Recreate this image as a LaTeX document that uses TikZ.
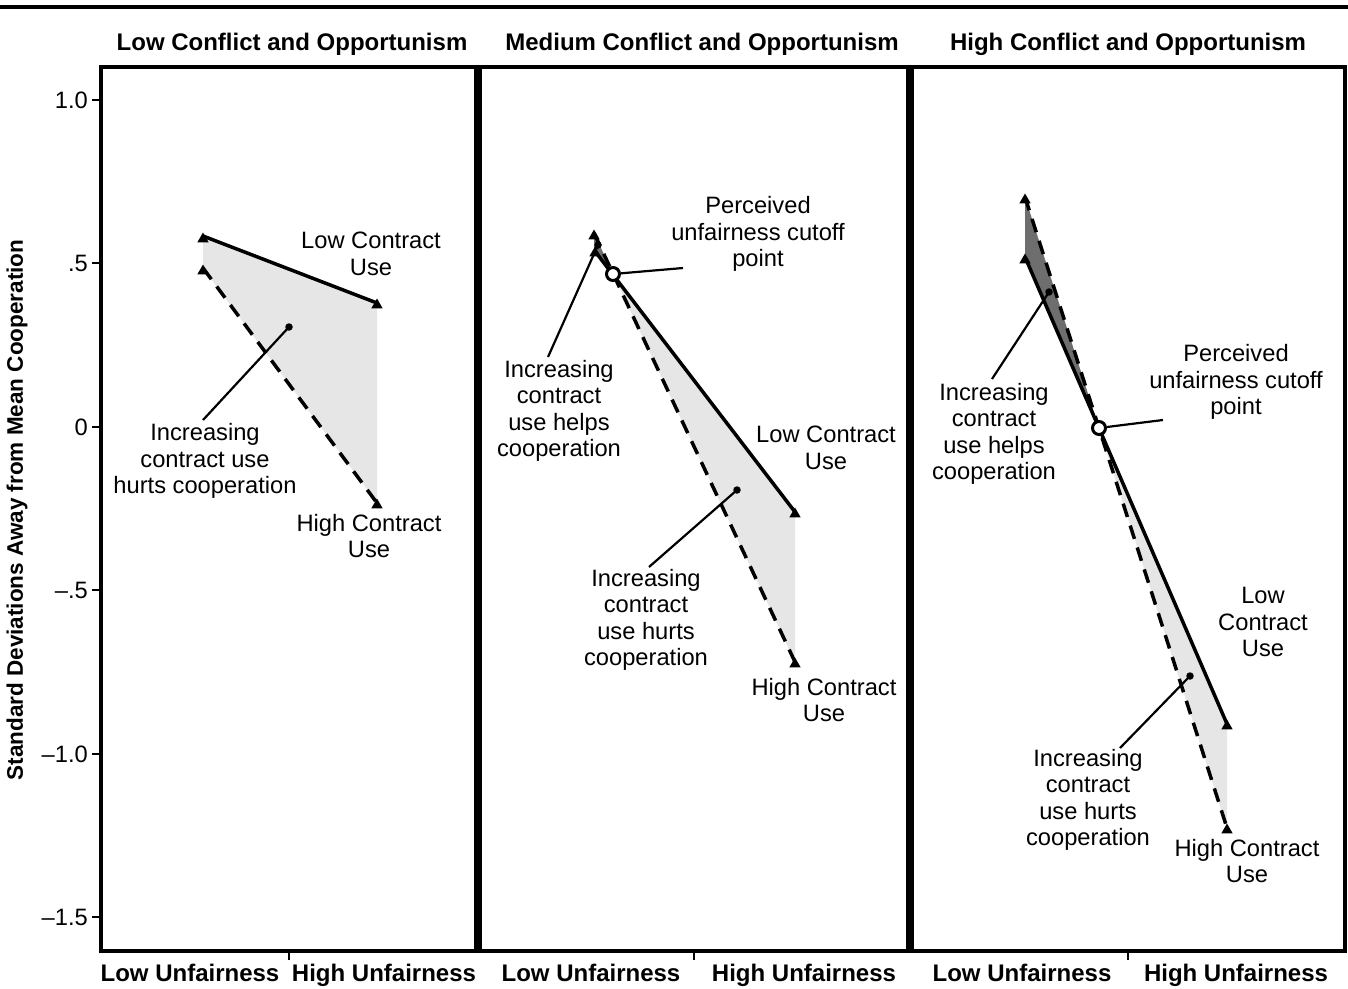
\documentclass[tikz,border=0pt]{standalone}
\usepackage{fontspec}
\setmainfont{Liberation Sans}
\usetikzlibrary{shapes.geometric}
\definecolor{lightfill}{HTML}{E6E6E6}
\definecolor{darkfill}{HTML}{6E6E6E}
\tikzset{
  lbl/.style={font=\fontsize{23.7}{26.5}\selectfont, align=center, inner sep=0pt},
  ttl/.style={font=\fontsize{24}{26}\selectfont\bfseries, inner sep=0pt, anchor=base},
  ytl/.style={font=\fontsize{23.7}{26}\selectfont, anchor=east, inner sep=0pt},
  frame/.style={line width=4pt},
  lowline/.style={line width=3.5pt},
  highline/.style={line width=3.5pt, dash pattern=on 14pt off 9pt},
  ptr/.style={line width=2.2pt},
  tri/.style={regular polygon, regular polygon sides=3, fill=black, inner sep=0pt, minimum size=13pt},
  dotnode/.style={circle, fill=black, inner sep=0pt, minimum size=7.5pt},
  cutoff/.style={circle, draw=black, line width=3pt, fill=white, inner sep=0pt, minimum size=13pt},
}
\begin{document}
\begin{tikzpicture}[x=1pt,y=-1pt]
\useasboundingbox (0,0) rectangle (1348,988);
% top rule
\coordinate (rl) at (0,7); \coordinate (rr) at (1348,7);
\draw[line width=4pt] (rl) -- (rr);

% titles
\node[ttl] (t1) at (292,50) {Low Conflict and Opportunism};
\node[ttl] (t2) at (702,50) {Medium Conflict and Opportunism};
\node[ttl] (t3) at (1128,50) {High Conflict and Opportunism};

% y label
\node[font=\fontsize{22.5}{24}\selectfont\bfseries, rotate=90, inner sep=0pt] (ylab) at (17,510) {Standard Deviations Away from Mean Cooperation};

% y ticks
\foreach \v/\t/\n in {100/1.0/a,263/.5/b,427/0/c,590/–.5/d,754/–1.0/e,917/–1.5/f}{
  \coordinate (yt\n) at (92,\v); \coordinate (yb\n) at (101,\v);
  \draw[line width=1.5pt] (yt\n) -- (yb\n);
  \node[ytl] (yl\n) at (88,\v) {\t};
}

% x ticks
\foreach \x/\n in {289/a,694/b,1128/c}{
  \coordinate (xt\n) at (\x,951); \coordinate (xb\n) at (\x,960);
  \draw[line width=1.5pt] (xt\n) -- (xb\n);
}
\node[ttl] (x1) at (190,981) {Low Unfairness};
\node[ttl] (x2) at (384,981) {High Unfairness};
\node[ttl] (x3) at (591,981) {Low Unfairness};
\node[ttl] (x4) at (804,981) {High Unfairness};
\node[ttl] (x5) at (1022,981) {Low Unfairness};
\node[ttl] (x6) at (1236,981) {High Unfairness};

% ===== Left panel =====
\coordinate (L1s) at (203,236); \coordinate (L1e) at (377,303);
\coordinate (H1s) at (203,268); \coordinate (H1e) at (377,503);
\fill[lightfill] (L1s) -- (L1e) -- (H1e) -- (H1s) -- cycle;
\draw[lowline] (L1s) -- (L1e);
\draw[highline] (H1s) -- (H1e);
\node[tri] (m1) at (203,239) {};
\node[tri] (m2) at (377,305) {};
\node[tri] (m3) at (203,271) {};
\node[tri] (m4) at (377,505) {};
\node[lbl] (lc1) at (371,254) {Low Contract\\Use};
\node[lbl] (hc1) at (369,536) {High Contract\\Use};
\node[lbl] (hu1) at (205,461) {Increasing\\contract use\\hurts cooperation};
\node[dotnode] (d1) at (289,327) {};
\coordinate (p1) at (203,420);
\draw[ptr] (d1.center) -- (p1);

% ===== Middle panel =====
\coordinate (L2s) at (594,250); \coordinate (L2e) at (795,512);
\coordinate (H2s) at (594,233); \coordinate (H2e) at (795,662);
\coordinate (X2) at (613,274);
\fill[darkfill] (H2s) -- (X2) -- (L2s) -- cycle;
\fill[lightfill] (X2) -- (L2e) -- (H2e) -- cycle;
\draw[lowline] (L2s) -- (L2e);
\draw[highline] (H2s) -- (H2e);
\node[tri] (m5) at (594,236) {};
\node[tri] (m6) at (595,253) {};
\node[tri] (m7) at (795,514) {};
\node[tri] (m8) at (795,664) {};
\node[lbl] (pc2) at (758,234) {Perceived\\unfairness cutoff\\point};
\node[lbl] (hp2) at (559,411) {Increasing\\contract\\use helps\\cooperation};
\node[lbl] (lc2) at (826,448) {Low Contract\\Use};
\node[lbl] (hu2) at (646,620) {Increasing\\contract\\use hurts\\cooperation};
\node[lbl] (hc2) at (824,700) {High Contract\\Use};
\node[dotnode] (d2) at (598,245) {};
\coordinate (p2) at (548,357);
\draw[ptr] (d2.center) -- (p2);
\node[dotnode] (d3) at (737,490) {};
\coordinate (p3) at (649,567);
\draw[ptr] (d3.center) -- (p3);
\node[cutoff] (c2) at (X2) {};
\coordinate (p4) at (683,268);
\draw[ptr] (c2) -- (p4);

% ===== Right panel =====
\coordinate (L3s) at (1025,257); \coordinate (L3e) at (1227,724);
\coordinate (H3s) at (1025,197); \coordinate (H3e) at (1227,828);
\coordinate (X3) at (1099,428);
\fill[darkfill] (H3s) -- (X3) -- (L3s) -- cycle;
\fill[lightfill] (X3) -- (L3e) -- (H3e) -- cycle;
\draw[lowline] (L3s) -- (L3e);
\draw[highline] (H3s) -- (H3e);
\node[tri] (m9) at (1025,200) {};
\node[tri] (m10) at (1025,260) {};
\node[tri] (m11) at (1227,726) {};
\node[tri] (m12) at (1227,830) {};
\node[lbl] (hp3) at (994,434) {Increasing\\contract\\use helps\\cooperation};
\node[lbl] (pc3) at (1236,382) {Perceived\\unfairness cutoff\\point};
\node[lbl] (lc3) at (1263,622) {Low\\Contract\\Use};
\node[lbl] (hu3) at (1088,800) {Increasing\\contract\\use hurts\\cooperation};
\node[lbl] (hc3) at (1247,861) {High Contract\\Use};
\node[dotnode] (d4) at (1049,292) {};
\coordinate (p5) at (992,379);
\draw[ptr] (d4.center) -- (p5);
\node[dotnode] (d5) at (1190,676) {};
\coordinate (p6) at (1120,748);
\draw[ptr] (d5.center) -- (p6);
\node[cutoff] (c3) at (X3) {};
\coordinate (p7) at (1163,420);
\draw[ptr] (c3) -- (p7);

% frames
\coordinate (f1a) at (101,67); \coordinate (f1b) at (476,951);
\coordinate (f2a) at (480,67); \coordinate (f2b) at (908,951);
\coordinate (f3a) at (912,67); \coordinate (f3b) at (1345,951);
\draw[frame] (f1a) rectangle (f1b);
\draw[frame] (f2a) rectangle (f2b);
\draw[frame] (f3a) rectangle (f3b);
\end{tikzpicture}
\end{document}
